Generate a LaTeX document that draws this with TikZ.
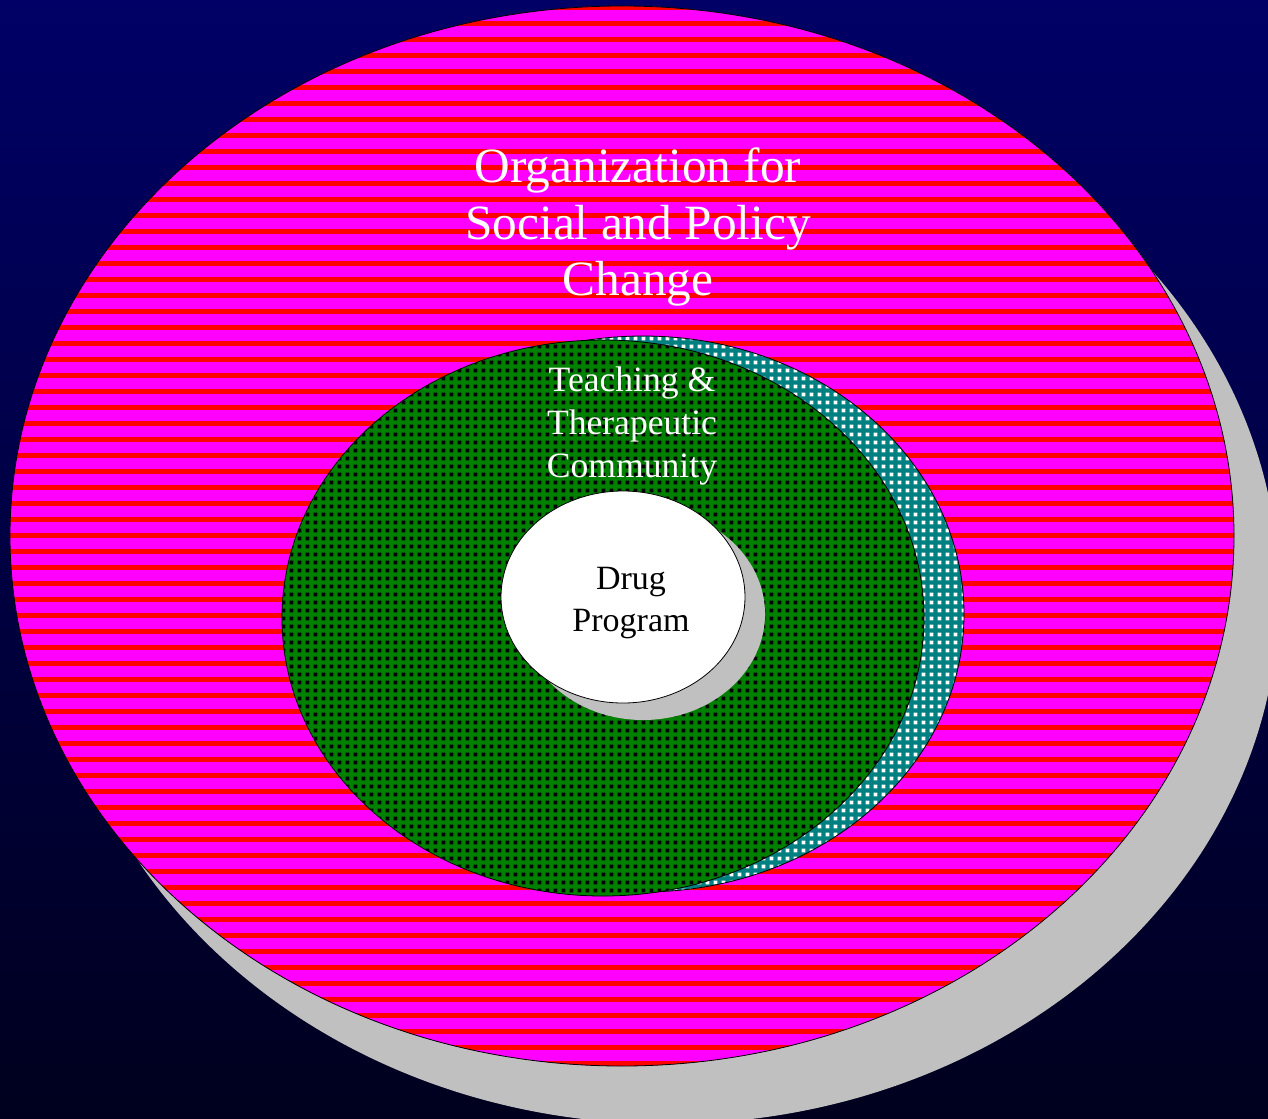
\documentclass[tikz,border=0pt]{standalone}
\usepackage{fontspec}
\setmainfont{Liberation Serif}
\usetikzlibrary{patterns}
\pgfdeclarepatternformonly{sqdots}{\pgfpointorigin}{\pgfpoint{6pt}{6pt}}{\pgfpoint{6pt}{6pt}}{\pgfpathrectangle{\pgfpoint{1.4pt}{1.4pt}}{\pgfpoint{3.2pt}{3.2pt}}\pgfusepath{fill}}
\definecolor{bgtop}{RGB}{0,0,102}
\definecolor{bgbot}{RGB}{0,0,30}
\definecolor{shadowgray}{RGB}{192,192,192}
\definecolor{magentafill}{RGB}{255,0,255}
\definecolor{stripered}{RGB}{255,0,0}
\definecolor{darkgreen}{RGB}{0,128,0}
\definecolor{tealfill}{RGB}{0,128,128}
\begin{document}
\begin{tikzpicture}[x=0.75pt,y=-0.75pt,
  outline/.style={draw=black,line width=0.6pt},
  shadowfill/.style={fill=shadowgray},
  greendots/.style={preaction={fill=darkgreen},pattern=sqdots,pattern color=black},
  tealdots/.style={preaction={fill=tealfill},pattern=sqdots,pattern color=white},
  label/.style={align=center,inner sep=0pt}]
\shade[top color=bgtop,bottom color=bgbot] (0,0) rectangle (1268,1118);
\useasboundingbox (0,0) rectangle (1268,1118);
% outer ring shadow
\fill[shadowfill] (667,594) ellipse [x radius=612,y radius=530];
% outer ellipse with stripes
\begin{scope}
  \clip (622,536) ellipse [x radius=612,y radius=530];
  \fill[magentafill] (0,0) rectangle (1268,1118);
  \foreach \k in {0,...,69}
    \fill[stripered] (0,{5.3+16*\k}) rectangle (1268,{9.8+16*\k});
\end{scope}
\draw[outline] (622,536) ellipse [x radius=612,y radius=530];
% teal shadow of middle ellipse
\path[tealdots] (643,614) ellipse [x radius=321,y radius=278];
\draw[outline] (643,614) ellipse [x radius=321,y radius=278];
% green middle ellipse
\path[greendots] (603,618) ellipse [x radius=321,y radius=278];
\draw[outline] (603,618) ellipse [x radius=321,y radius=278];
% inner shadow and inner ellipse
\fill[shadowfill] (643,614) ellipse [x radius=122,y radius=106];
\filldraw[fill=white,outline] (623,597) ellipse [x radius=122,y radius=106];
% labels
\node[label,text=white,font=\fontsize{37}{42.5}\selectfont] (org) at (638,227) {Organization for\\Social and Policy\\Change};
\node[label,text=white,font=\fontsize{26.7}{32.6}\selectfont] (ttc) at (632,426) {Teaching \&\\Therapeutic\\Community};
\node[label,text=black,font=\fontsize{25.5}{31.5}\selectfont] (drug) at (631,603) {Drug\\Program};
\end{tikzpicture}
\end{document}
